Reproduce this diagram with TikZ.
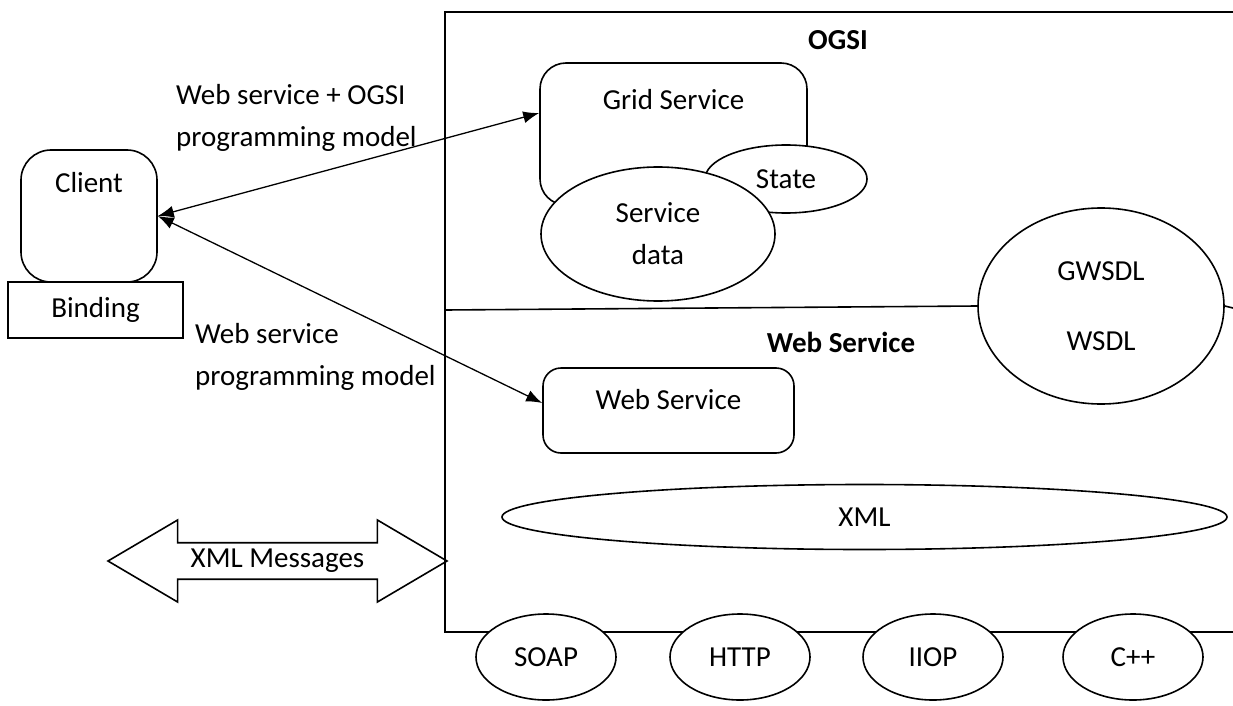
\documentclass[tikz,border=0pt]{standalone}
\usepackage{fontspec}
\setmainfont{Carlito}
\usetikzlibrary{arrows.meta,shapes.geometric,shapes.arrows}

\begin{document}
\begin{tikzpicture}[x=1pt,y=-1pt,
  font=\fontsize{29}{42}\selectfont,
  every node/.style={inner sep=0pt},
  title/.style={font=\fontsize{29}{42}\selectfont\bfseries},
  box/.style={draw, line width=1.6pt, rounded corners=26pt},
  oval/.style={draw, ellipse, line width=1.6pt, fill=white},
  link/.style={line width=1.3pt, {Latex[length=16pt,width=12pt]}-{Latex[length=16pt,width=12pt]}}]
 \useasboundingbox (0,0) rectangle (1233,706);

 % frame of the two layers
 \draw[line width=1.6pt] (1233,12) -- (445,12) -- (445,632) -- (1233,632);

 % OGSI layer
 \node[title] (ogsi) at (838,40) {OGSI};
 \node[box, minimum width=267pt, minimum height=142pt] (grid) at (673.5,134) {};
 \node at ([yshift=-37pt]grid.north) {Grid Service};
 \node[oval, minimum width=162pt, minimum height=68pt] (state) at (786,179) {State};
 \node[oval, align=center, minimum width=234pt, minimum height=134pt] (sdata) at (658,234) {Service\\data};
 \node[oval, align=center, minimum width=246pt, minimum height=196pt] (gwsdl) at (1101,306) {GWSDL\\[28pt]WSDL};
 \draw[line width=1.6pt] (445,310) -- (gwsdl.west) (gwsdl.east) -- (1233,308);

 % Web service layer
 \node[title] (wslayer) at (841,342) {Web Service};
 \node[box, rounded corners=18pt, minimum width=251pt, minimum height=85pt] (websvc) at (668.5,410.5) {};
 \node at ([yshift=-32pt]websvc.north) {Web Service};
 \node[oval, minimum width=725pt, minimum height=65pt] (xml) at (864.5,517) {XML};

 \foreach \name/\x/\txt in {soap/546/SOAP, http/740/HTTP, iiop/933/IIOP, cpp/1133/C++}
  \node[oval, minimum width=140pt, minimum height=86pt] (\name) at (\x,657) {\txt};

 % client side
 \node[draw, line width=1.6pt, minimum width=175pt, minimum height=56pt] (binding) at (95.5,310) {Binding};
 \node[box, rounded corners=30pt, minimum width=136pt, minimum height=132pt] (client) at (89,216) {};
 \node at ([yshift=-33pt]client.north) {Client};

 \node[align=left, anchor=west] (lbl-ogsi) at (176,118) {Web service + OGSI\\programming model};
 \node[align=left, anchor=west] (lbl-ws) at (195,357) {Web service\\programming model};

 \path[link]
  (client.east) edge ([yshift=21pt]grid.west)
  (client.east) edge ([yshift=7.5pt]websvc.west);

 \node[draw, line width=1.6pt, double arrow, double arrow head extend=19.5pt,
  double arrow tip angle=61, minimum height=339pt, minimum width=82pt, inner sep=3pt]
  (msgs) at (277.5,561) {XML Messages};
\end{tikzpicture}
\end{document}
